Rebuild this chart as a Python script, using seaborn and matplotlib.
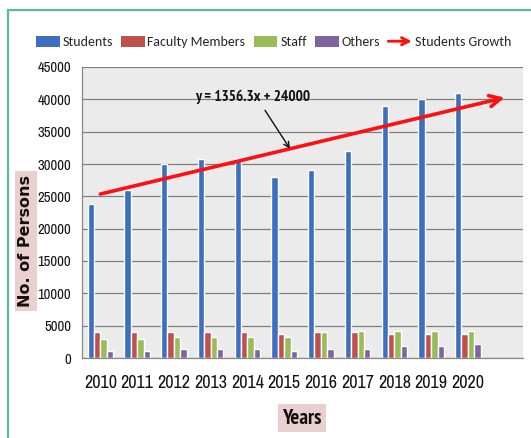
import matplotlib
matplotlib.use("Agg")
import matplotlib.pyplot as plt
from matplotlib.patches import Rectangle, FancyArrowPatch, Patch
from matplotlib.lines import Line2D
from matplotlib.legend_handler import HandlerBase
import seaborn as sns
import pandas as pd

# ---- data -------------------------------------------------------------
years = ["2010", "2011", "2012", "2013", "2014", "2015",
         "2016", "2017", "2018", "2019", "2020"]
students = [23800, 26000, 30000, 30800, 30800, 28000,
            29000, 32000, 39000, 40000, 41000]
faculty = [4000, 4000, 4000, 4000, 4000, 3700,
           4000, 4000, 3700, 3700, 3700]
staff = [3000, 3000, 3200, 3200, 3200, 3200,
         4000, 4200, 4200, 4200, 4200]
others = [1100, 1100, 1400, 1400, 1400, 1100,
          1400, 1400, 1900, 1900, 2200]
groups = ["Students", "Faculty Members", "Staff", "Others"]
colors = ["#3d6ebf", "#c0504d", "#9bbb59", "#8064a2"]

# linear trend of student numbers (x = 1 for 2010 ... 12 for the open slot)
slope = 1356.3
intercept = 24000
trend_x = [1, 12]

y_ticks = list(range(0, 45001, 5000))

df = pd.DataFrame({
    "Year": years * 4,
    "Value": students + faculty + staff + others,
    "Group": sum([[g] * len(years) for g in groups], []),
})

# ---- figure -----------------------------------------------------------
sns.set_theme(style="white")
NARROW = ["Archivo Narrow", "PT Sans Narrow", "DejaVu Sans"]
NARROW_BOLD = ["PT Sans Narrow", "DejaVu Sans"]
plt.rcParams["font.family"] = NARROW

W, H = 531, 438
fig = plt.figure(figsize=(W / 100, H / 100), dpi=100)
fig.patch.set_facecolor("white")

# framing border
fig.add_artist(Rectangle((7.5 / W, -0.1), 1.2, (H - 10) / H + 0.1,
                         transform=fig.transFigure, fill=False,
                         edgecolor="#5cb89a", lw=1.6))

ax = fig.add_axes([82 / W, (H - 358) / H, (523 - 82) / W, (358 - 67) / H])
ax.set_facecolor("#ebebeb")

sns.barplot(data=df, x="Year", y="Value", hue="Group", order=years,
            hue_order=groups, palette=colors, width=0.7,
            saturation=1, ax=ax, legend=False)

ax.set_xlim(-0.5, len(years) + 0.5)
ax.set_ylim(0, 45000)
ax.set_yticks(y_ticks)
ax.set_yticklabels([str(v) for v in y_ticks], fontsize=10.5)
ax.set_xticks(range(len(years)))
ax.set_xticklabels(years, fontsize=13)
ax.set_xticks([i - 0.5 for i in range(len(years) + 2)], minor=True)
ax.tick_params(axis="x", which="major", length=0, pad=12, colors="#111111")
ax.tick_params(axis="x", which="minor", length=5, width=0.9,
               color="#888888", direction="out")
ax.tick_params(axis="y", length=5, width=0.9, direction="out", pad=3,
               colors="#111111")
ax.tick_params(axis="y", color="#888888")
ax.yaxis.grid(True, color="#7f7f7f", lw=0.9)
ax.set_axisbelow(True)
for side in ("top", "right"):
    ax.spines[side].set_visible(False)
for side in ("left", "bottom"):
    ax.spines[side].set_color("#888888")
    ax.spines[side].set_linewidth(0.9)
ax.set_xlabel("")
ax.set_ylabel("")

# student growth trend arrow
tx = [x - 1 for x in trend_x]
ty = [slope * x + intercept for x in trend_x]
ax.annotate("", xy=(tx[1], ty[1]), xytext=(tx[0], ty[0]),
            arrowprops=dict(arrowstyle="->", color="#ff1010", lw=2.6,
                            mutation_scale=20, shrinkA=0, shrinkB=0),
            zorder=5)

# trend equation label with pointer onto the line
ax.text(4.15, 40400, f"y = {slope}x + {intercept}", ha="center",
        va="center", fontsize=11, fontweight="bold", family=NARROW_BOLD,
        color="#111111")
px = 6.16
ax.annotate("", xy=(px - 1, slope * px + intercept), xytext=(4.48, 38300),
            arrowprops=dict(arrowstyle="->", color="#111111", lw=1,
                            mutation_scale=10, shrinkA=0, shrinkB=0),
            zorder=6)

# axis titles on pink boxes
fig.text(26 / W, 1 - 241 / H, "No. of Persons", rotation=90,
         ha="center", va="center", fontsize=11.5, fontweight="bold",
         family="DejaVu Sans", color="#111111",
         bbox=dict(boxstyle="square,pad=0.25", fc="#e9cfcf", ec="none"))
fig.text(302 / W, 1 - 418 / H, "Years", ha="center", va="center",
         fontsize=15, fontweight="bold", family=NARROW_BOLD,
         color="#111111",
         bbox=dict(boxstyle="square,pad=0.2", fc="#e9cfcf", ec="none"))


# legend, with an arrow glyph for the growth entry
class ArrowHandler(HandlerBase):
    def create_artists(self, legend, orig_handle, xdescent, ydescent,
                       width, height, fontsize, trans):
        y = height / 2 - ydescent
        arr = FancyArrowPatch((-xdescent, y), (width - xdescent, y),
                              arrowstyle="->", mutation_scale=13,
                              color="#ff1010", lw=2, shrinkA=0, shrinkB=0)
        arr.set_transform(trans)
        return [arr]


handles = [Patch(facecolor=c, edgecolor="none") for c in colors]
growth = Line2D([], [], color="#ff1010")
handles.append(growth)
labels = groups + ["Students Growth"]
fig.legend(handles, labels, loc="center", bbox_to_anchor=(0.515, 1 - 42 / H),
           ncol=5, frameon=False, handlelength=1.7, handleheight=0.8,
           handletextpad=0.2, columnspacing=0.6,
           prop=dict(family=["Carlito", "DejaVu Sans"], size=10),
           handler_map={growth: ArrowHandler()})

fig.savefig("out.png", dpi=100)
